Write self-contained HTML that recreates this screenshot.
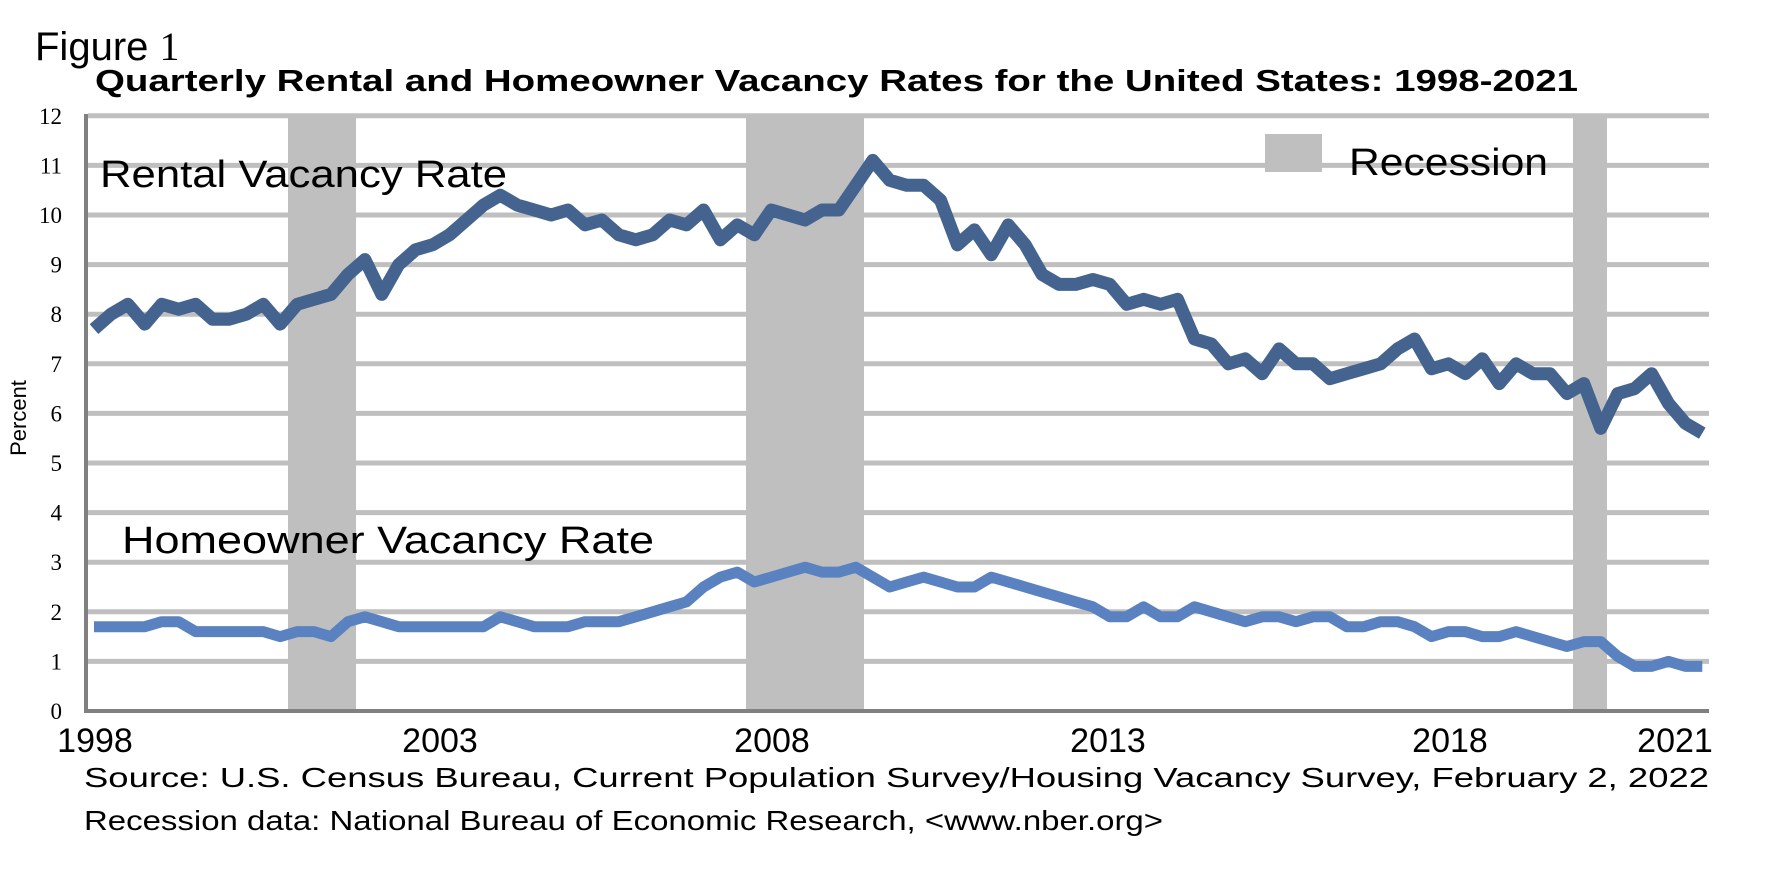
<!DOCTYPE html>
<html><head><meta charset="utf-8"><style>
body{margin:0;background:#fff;}
svg text{font-family:"Liberation Sans",sans-serif;}
svg text.serif{font-family:"Liberation Serif",serif;}
</style></head><body>
<svg width="1772" height="870" viewBox="0 0 1772 870" xmlns="http://www.w3.org/2000/svg">
<rect width="1772" height="870" fill="#fff"/>
<text x="35" y="60" font-size="40">Figure <tspan class="serif" style="font-family:'Liberation Serif',serif">1</tspan></text>
<text x="95" y="91" font-size="31" font-weight="bold" textLength="1483" lengthAdjust="spacingAndGlyphs">Quarterly Rental and Homeowner Vacancy Rates for the United States: 1998-2021</text>
<g fill="#bfbfbf">
<rect x="288" y="116" width="68" height="595"/>
<rect x="746" y="116" width="118" height="595"/>
<rect x="1573" y="116" width="34" height="595"/>
<rect x="1265" y="134" width="57" height="38"/>
</g>
<g id="grid" stroke="#bfbfbf" stroke-width="5"></g>
<line x1="86" y1="114" x2="86" y2="713" stroke="#808080" stroke-width="4"/>
<line x1="84" y1="711" x2="1709" y2="711" stroke="#808080" stroke-width="4"/>
<g id="yl" font-size="23" text-anchor="end"></g>
<text x="26" y="418" font-size="22" transform="rotate(-90 26 418)" text-anchor="middle">Percent</text>
<g font-size="34" text-anchor="middle">
<text x="95" y="752">1998</text><text x="440" y="752">2003</text><text x="772" y="752">2008</text>
<text x="1108" y="752">2013</text><text x="1450" y="752">2018</text><text x="1675" y="752">2021</text>
</g>
<text x="100" y="187" font-size="38" textLength="407" lengthAdjust="spacingAndGlyphs">Rental Vacancy Rate</text>
<text x="122" y="553" font-size="38" textLength="532" lengthAdjust="spacingAndGlyphs">Homeowner Vacancy Rate</text>
<text x="1349" y="175" font-size="38" textLength="199" lengthAdjust="spacingAndGlyphs">Recession</text>
<polyline id="r" fill="none" stroke="#44648f" stroke-width="13" stroke-linejoin="round"/>
<polyline id="h" fill="none" stroke="#5b82c0" stroke-width="11" stroke-linejoin="round"/>
<text x="84" y="787" font-size="28" textLength="1625" lengthAdjust="spacingAndGlyphs">Source: U.S. Census Bureau, Current Population Survey/Housing Vacancy Survey, February 2, 2022</text>
<text x="84" y="830" font-size="28" textLength="1079" lengthAdjust="spacingAndGlyphs">Recession data: National Bureau of Economic Research, &lt;www.nber.org&gt;</text>
</svg>
<script>
var R=[7.7,8.0,8.2,7.8,8.2,8.1,8.2,7.9,7.9,8.0,8.2,7.8,8.2,8.3,8.4,8.8,9.1,8.4,9.0,9.3,9.4,9.6,9.9,10.2,10.4,10.2,10.1,10.0,10.1,9.8,9.9,9.6,9.5,9.6,9.9,9.8,10.1,9.5,9.8,9.6,10.1,10.0,9.9,10.1,10.1,10.6,11.1,10.7,10.6,10.6,10.3,9.4,9.7,9.2,9.8,9.4,8.8,8.6,8.6,8.7,8.6,8.2,8.3,8.2,8.3,7.5,7.4,7.0,7.1,6.8,7.3,7.0,7.0,6.7,6.8,6.9,7.0,7.3,7.5,6.9,7.0,6.8,7.1,6.6,7.0,6.8,6.8,6.4,6.6,5.7,6.4,6.5,6.8,6.2,5.8,5.6];
var H=[1.7,1.7,1.7,1.7,1.8,1.8,1.6,1.6,1.6,1.6,1.6,1.5,1.6,1.6,1.5,1.8,1.9,1.8,1.7,1.7,1.7,1.7,1.7,1.7,1.9,1.8,1.7,1.7,1.7,1.8,1.8,1.8,1.9,2.0,2.1,2.2,2.5,2.7,2.8,2.6,2.7,2.8,2.9,2.8,2.8,2.9,2.7,2.5,2.6,2.7,2.6,2.5,2.5,2.7,2.6,2.5,2.4,2.3,2.2,2.1,1.9,1.9,2.1,1.9,1.9,2.1,2.0,1.9,1.8,1.9,1.9,1.8,1.9,1.9,1.7,1.7,1.8,1.8,1.7,1.5,1.6,1.6,1.5,1.5,1.6,1.5,1.4,1.3,1.4,1.4,1.1,0.9,0.9,1.0,0.9,0.9,0.9,0.9];
function Y(v){return 711-49.6*v}
function pts(a){return a.map(function(v,i){return (94+i*16.93).toFixed(1)+","+Y(v).toFixed(1)}).join(" ")}
document.getElementById("r").setAttribute("points",pts(R));
document.getElementById("h").setAttribute("points",pts(H.slice(0,96)));
var g=document.getElementById("grid"),yl=document.getElementById("yl"),ns="http://www.w3.org/2000/svg";
for(var v=0;v<=12;v++){var y=Y(v);
if(v>0){var l=document.createElementNS(ns,"line");l.setAttribute("x1",88);l.setAttribute("x2",1709);l.setAttribute("y1",y);l.setAttribute("y2",y);g.appendChild(l);}
var t=document.createElementNS(ns,"text");t.setAttribute("x",62);t.setAttribute("y",y+8);t.setAttribute("class","serif");t.setAttribute("style","font-family:'Liberation Serif',serif");t.textContent=v;yl.appendChild(t);}
</script>
</body></html>
